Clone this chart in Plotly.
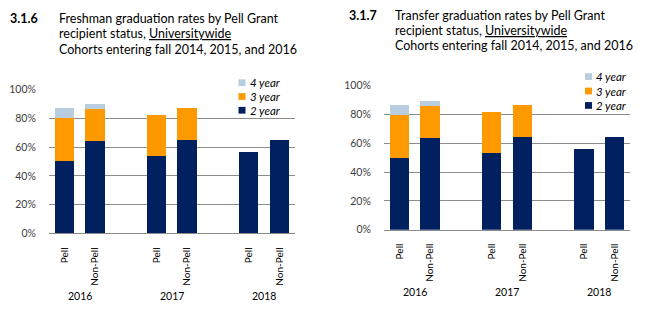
import plotly.graph_objects as go

W, H = 651, 322

# ---- data ----
cohort_years = ["2016", "2017", "2018"]
statuses = ["Pell", "Non-Pell"]
series_names = ["2 year", "3 year", "4 year"]

fresh_2yr = [50.2, 64.2, 53.5, 64.9, 56.2, 64.9]
fresh_3yr = [30.0, 22.0, 28.7, 22.0, 0, 0]
fresh_4yr = [6.7, 3.3, 0, 0, 0, 0]

trans_2yr = [50.2, 64.2, 53.5, 64.9, 56.2, 64.9]
trans_3yr = [30.0, 22.0, 28.7, 22.0, 0, 0]
trans_4yr = [6.7, 3.3, 0, 0, 0, 0]

y_ticks = [0, 20, 40, 60, 80, 100]

colors = {"2 year": "#002060", "3 year": "#FF9900", "4 year": "#B9CDE0"}
FONT = "Lato"


def px(x):
    return x / W


def py(y):
    return 1 - y / H


# x positions: two bars per cohort with an empty slot between cohorts
xpos = []
for gi in range(len(cohort_years)):
    for si in range(len(statuses)):
        xpos.append(gi * 3 + si)
ticktext = [s for _ in cohort_years for s in statuses]

fig = go.Figure()


def add_chart(vals, xa, ya):
    for name, v in zip(series_names, vals):
        fig.add_trace(go.Bar(
            x=xpos, y=[a / 100 if a else None for a in v], name=name,
            marker=dict(color=colors[name], line=dict(width=0)),
            width=0.635, xaxis=xa, yaxis=ya, showlegend=False,
            hovertemplate="%{y:.0%}<extra>" + name + "</extra>"))


add_chart([fresh_2yr, fresh_3yr, fresh_4yr], "x", "y")
add_chart([trans_2yr, trans_3yr, trans_4yr], "x2", "y2")

axis_common_x = dict(
    range=[-0.5, 7.5], tickmode="array", tickvals=xpos, ticktext=ticktext,
    tickangle=-90, showline=True, linecolor="#8C8C8C", linewidth=1,
    ticks="outside", ticklen=9, tickcolor="rgba(0,0,0,0)",
    tickfont=dict(family=FONT, size=10, color="#000000"),
    showgrid=False, zeroline=False, fixedrange=True)
axis_common_y = dict(
    range=[0, 1], tickmode="array", tickvals=[t / 100 for t in y_ticks],
    ticktext=[f"{t}%" for t in y_ticks], showgrid=True, gridcolor="#8C8C8C",
    gridwidth=1, zeroline=False, showline=False, ticks="outside", ticklen=10,
    tickcolor="rgba(0,0,0,0)",
    tickfont=dict(family=FONT, size=10.5, color="#404040"), fixedrange=True)

fig.update_layout(
    width=W, height=H, margin=dict(l=0, r=0, t=0, b=0),
    paper_bgcolor="white", plot_bgcolor="white", barmode="stack", bargap=0,
    font=dict(family=FONT),
    xaxis=dict(axis_common_x, domain=[px(49), px(294.7)], anchor="y"),
    yaxis=dict(axis_common_y, domain=[py(236.3), py(86.7)], anchor="x"),
    xaxis2=dict(axis_common_x, domain=[px(384), px(630)], anchor="y2"),
    yaxis2=dict(axis_common_y, domain=[py(232.3), py(82.7)], anchor="x2"),
)

annotations = []
shapes = []

# titles
def add_title(num, lines, xnum, xtext, ytop):
    annotations.append(dict(text=f"<b>{num}</b>", x=px(xnum), y=py(ytop), xref="paper",
                            yref="paper", xanchor="left", yanchor="middle", showarrow=False,
                            font=dict(family=FONT, size=12.5, color="#000000")))
    for i, ln in enumerate(lines):
        annotations.append(dict(text=ln, x=px(xtext), y=py(ytop + i * 16), xref="paper",
                                yref="paper", xanchor="left", yanchor="middle",
                                showarrow=False,
                                font=dict(family=FONT, size=12.5, color="#000000")))


add_title("3.1.6", ["Freshman graduation rates by Pell Grant",
                    "recipient status, <u>Universitywide</u>",
                    "Cohorts entering fall 2014, 2015, and 2016"], 8, 57, 13)
add_title("3.1.7", ["Transfer graduation rates by Pell Grant",
                    "recipient status, <u>Universitywide</u>",
                    "Cohorts entering fall 2014, 2015, and 2016"], 346.5, 393, 9.5)

# year labels
for xa, yy in (("x", 301), ("x2", 297)):
    for gi, yr in enumerate(cohort_years):
        annotations.append(dict(text=yr, x=gi * 3 + 0.5, y=py(yy), xref=xa, yref="paper",
                                xanchor="center", yanchor="middle", showarrow=False,
                                font=dict(family=FONT, size=10.5, color="#000000")))

# legends
def add_legend(xs, ys):
    for name, yc in zip(["4 year", "3 year", "2 year"], ys):
        shapes.append(dict(type="rect", xref="paper", yref="paper",
                           x0=px(xs), x1=px(xs + 7), y0=py(yc + 3.5), y1=py(yc - 3.5),
                           fillcolor=colors[name], line=dict(width=0)))
        annotations.append(dict(text=f"<i>{name}</i>", x=px(xs + 9), y=py(yc),
                                xref="paper", yref="paper", xanchor="left",
                                yanchor="middle", showarrow=False,
                                font=dict(family=FONT, size=11.5, color="#000000")))


add_legend(238.5, [79.7, 94, 108.3])
add_legend(585, [73.3, 88.3, 103.3])

fig.update_layout(annotations=annotations, shapes=shapes)
fig.write_html("out.html")
